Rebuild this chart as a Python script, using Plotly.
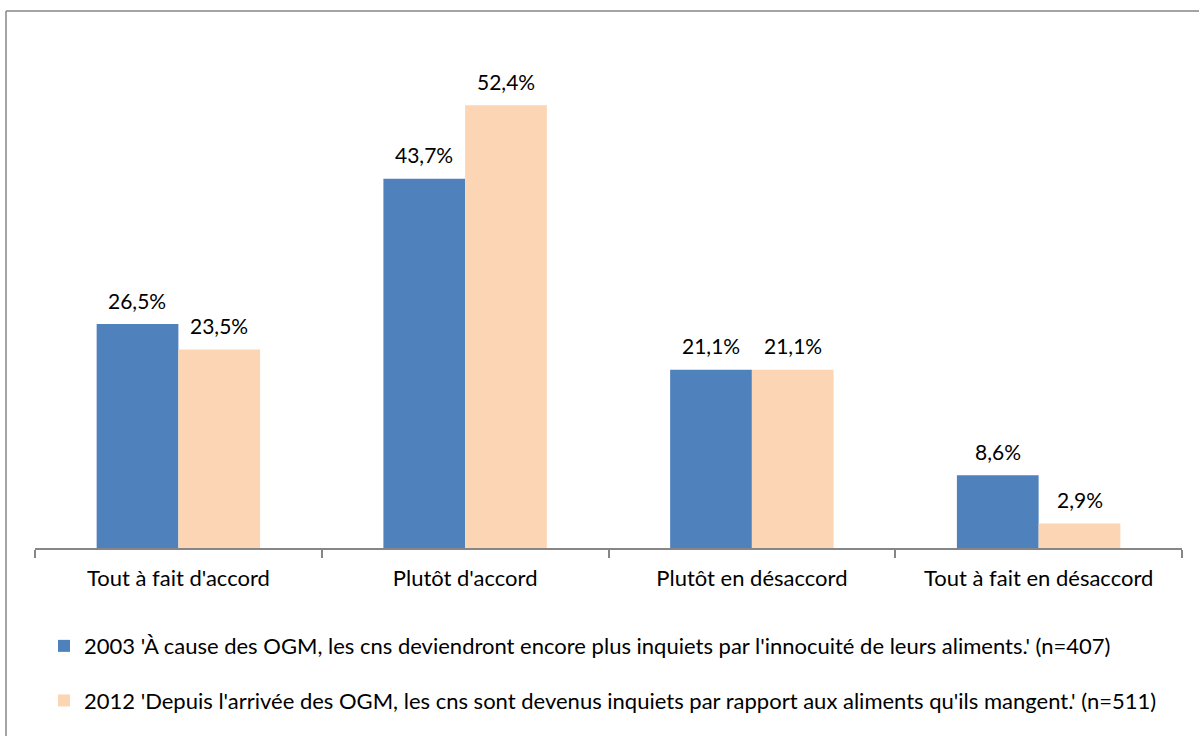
import plotly.graph_objects as go

categories = ["Tout à fait d'accord", "Plutôt d'accord", "Plutôt en désaccord", "Tout à fait en désaccord"]
series_2003 = [26.5, 43.7, 21.1, 8.6]
series_2012 = [23.5, 52.4, 21.1, 2.9]
name_2003 = "2003 'À cause des OGM, les cns deviendront encore plus inquiets par l'innocuité de leurs aliments.' (n=407)"
name_2012 = "2012 'Depuis l'arrivée des OGM, les cns sont devenus inquiets par rapport aux aliments qu'ils mangent.' (n=511)"

BLUE = "#4F81BD"
PEACH = "#FCD5B5"
FONT = "Lato"
FS = 22
W, H = 1199, 736
ML, MR, MT, MB = 35, 17, 41, 188

fig = go.Figure()
fig.add_trace(go.Bar(x=categories, y=series_2003, name=name_2003, marker_color=BLUE,
                     marker_line_width=0, legendgroup="a"))
fig.add_trace(go.Bar(x=categories, y=series_2012, name=name_2012, marker_color=PEACH,
                     marker_line_width=0, legendgroup="b"))

def fmt(v):
    return f"{v:.1f}".replace(".", ",") + "%"

ann = []
for vals, xs in ((series_2003, -41), (series_2012, 41)):
    for c, v in zip(categories, vals):
        ann.append(dict(x=c, y=v, xref="x", yref="y", text=fmt(v), showarrow=False,
                        xshift=xs, yshift=24, yanchor="middle",
                        font=dict(family=FONT, size=21, color="#000000")))

pw = W - ML - MR
ph = H - MT - MB
bx0 = (6 - ML) / pw
by1 = (H - MB - 11) / ph
fig.update_layout(
    width=W, height=H,
    margin=dict(l=ML, r=MR, t=MT, b=MB),
    paper_bgcolor="white", plot_bgcolor="white",
    barmode="group", bargap=0.43, bargroupgap=0,
    font=dict(family=FONT, size=FS, color="#000000"),
    annotations=ann,
    showlegend=True,
    legend=dict(orientation="v", x=(44 - ML) / pw, xanchor="left", y=-0.152, yanchor="top",
                traceorder="grouped", tracegroupgap=23,
                font=dict(family=FONT, size=FS, color="#000000"), itemwidth=30),
    shapes=[
        dict(type="line", xref="paper", yref="paper", x0=bx0, x1=bx0, y0=by1, y1=-1, line=dict(color="#868686", width=1.5)),
        dict(type="line", xref="paper", yref="paper", x0=bx0, x1=2, y0=by1, y1=by1, line=dict(color="#868686", width=1.5)),
    ],
)
fig.update_xaxes(showline=True, linecolor="#868686", linewidth=1.5, ticks="outside", tickson="boundaries",
                 ticklen=8, tickcolor="#868686", tickwidth=1.5, showgrid=False, ticklabelstandoff=10,
                 tickfont=dict(family=FONT, size=FS, color="#000000"))
fig.update_yaxes(range=[0, 60], visible=False, showgrid=False, zeroline=False)

fig.write_html("out.html", post_script="document.body.style.margin='0';",
               config={"displayModeBar": False})
